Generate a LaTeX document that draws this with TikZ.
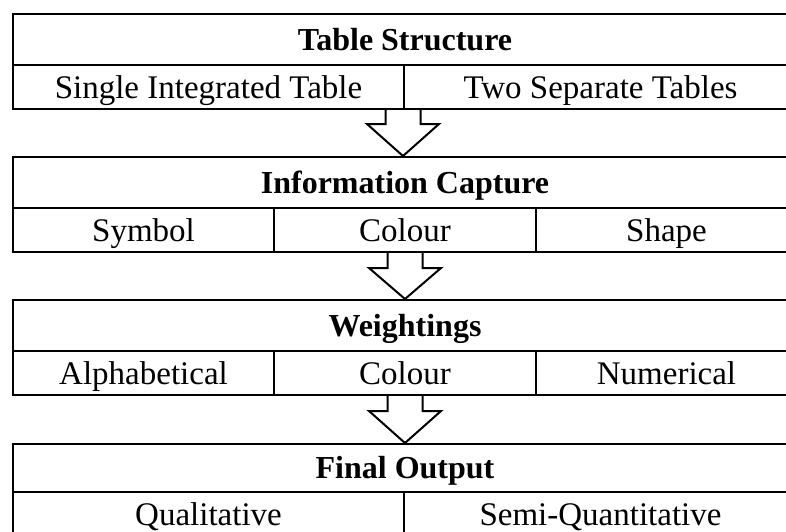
\documentclass[tikz,border=0pt]{standalone}
\usepackage{fontspec}
\setmainfont{Liberation Serif}
\usetikzlibrary{calc}
\begin{document}
\begin{tikzpicture}[x=1pt,y=1pt,
  frame/.style={draw=black, line width=2pt, inner sep=0pt, anchor=north west},
  hcell/.style={frame, minimum width=784pt, minimum height=51pt, text height=21.5pt, text depth=0pt, font=\fontsize{32}{38}\selectfont\bfseries},
  cell/.style={frame, minimum height=44pt, text height=22pt, text depth=0pt, font=\fontsize{33}{40}\selectfont},
  blk/.style={draw=black, line width=2pt, fill=white, line join=miter}
]
\useasboundingbox (0,0) rectangle (786,-531);
\clip (0,0) rectangle (786,-531);
% Table 1
\node[hcell] (h1) at (12,-13) {Table Structure};
\node[cell, minimum width=391pt] (c11) at (12,-64) {Single Integrated Table};
\node[cell, minimum width=393pt] (c12) at (403,-64) {Two Separate Tables};
% Table 2
\node[hcell] (h2) at (12,-156) {Information Capture};
\node[cell, minimum width=261pt] (c21) at (12,-207) {Symbol};
\node[cell, minimum width=262pt] (c22) at (273,-207) {Colour};
\node[cell, minimum width=261pt] (c23) at (535,-207) {Shape};
% Table 3
\node[hcell] (h3) at (12,-299) {Weightings};
\node[cell, minimum width=261pt] (c31) at (12,-350) {Alphabetical};
\node[cell, minimum width=262pt] (c32) at (273,-350) {Colour};
\node[cell, minimum width=261pt] (c33) at (535,-350) {Numerical};
% Table 4
\node[hcell, minimum height=48pt] (h4) at (12,-443) {Final Output};
\node[cell, minimum width=391pt] (c41) at (12,-491) {Qualitative};
\node[cell, minimum width=393pt] (c42) at (403,-491) {Semi-Quantitative};
% Block arrows
\draw[blk] ($(c12.south west)+(-17.5,0)$) -- ++(0,-14) -- ++(-18.5,0)
  -- (h2.north -| c12.south west) -- ($(c12.south west)+(36,-14)$) -- ++(-18.5,0) -- ($(c12.south west)+(17.5,0)$);
\draw[blk] ($(c22.south)+(-17.5,0)$) -- ++(0,-15) -- ++(-18.5,0)
  -- (h3.north -| c22.south) -- ($(c22.south)+(36,-15)$) -- ++(-18.5,0) -- ($(c22.south)+(17.5,0)$);
\draw[blk] ($(c32.south)+(-17.5,0)$) -- ++(0,-15) -- ++(-18.5,0)
  -- (h4.north -| c32.south) -- ($(c32.south)+(36,-15)$) -- ++(-18.5,0) -- ($(c32.south)+(17.5,0)$);
\end{tikzpicture}
\end{document}
